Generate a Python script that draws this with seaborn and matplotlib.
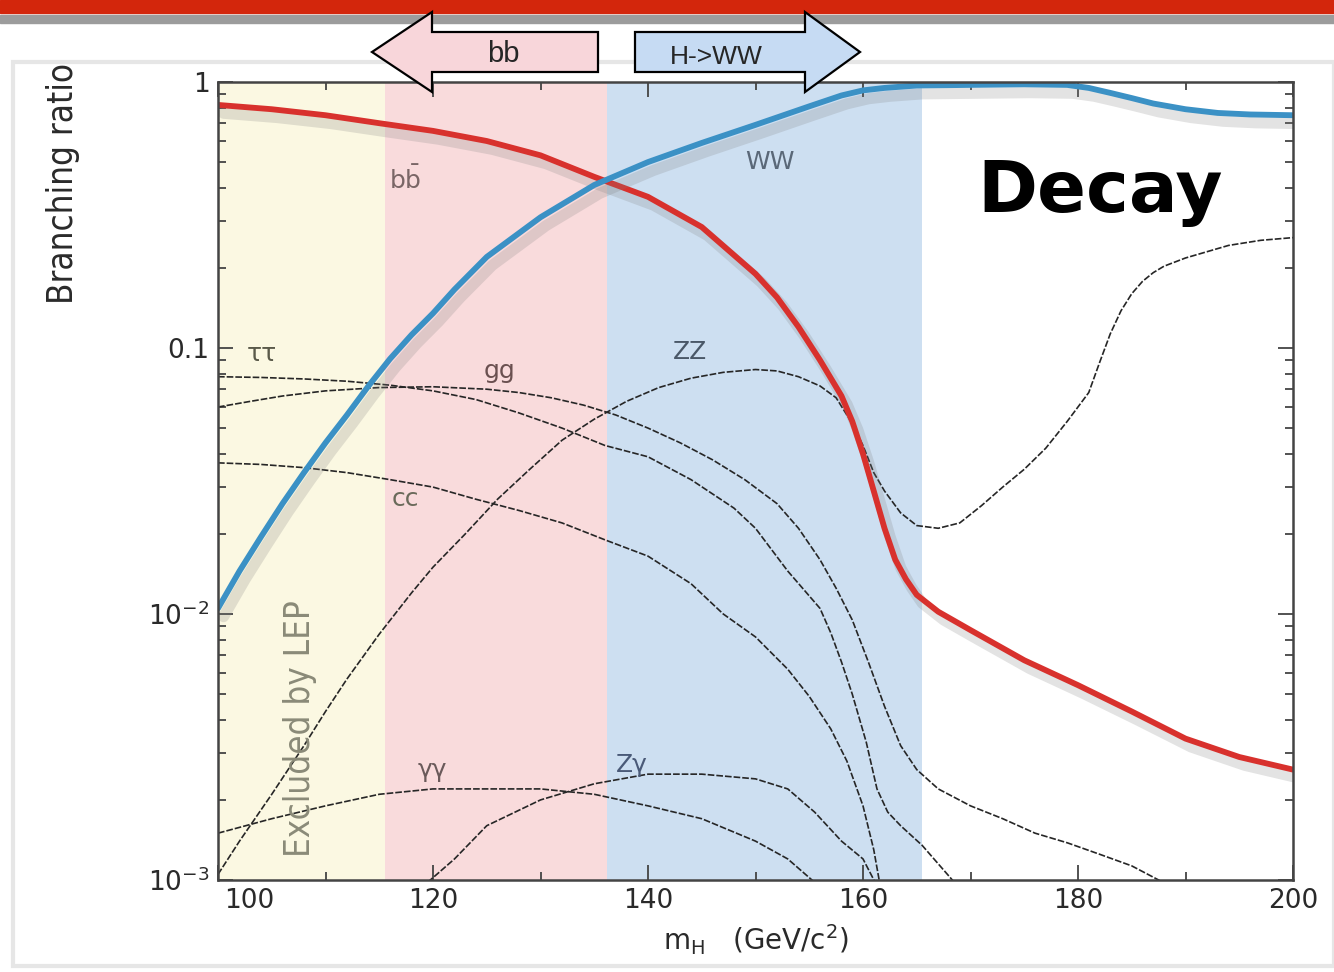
import numpy as np
import pandas as pd
import seaborn as sns
import matplotlib.pyplot as plt
import matplotlib.patheffects as pe
import matplotlib.transforms as mtransforms
from matplotlib.patches import Polygon, Rectangle
from matplotlib.ticker import MultipleLocator, LogLocator, FixedLocator, FixedFormatter, NullFormatter

# Higgs branching ratios vs m_H
bb_m = [100, 105, 110, 115, 120, 125, 130, 135, 140, 145, 150, 152, 154, 156, 158, 159, 160, 161,
        162, 163, 164, 165, 167, 170, 175, 180, 185, 190, 195, 200]
bb_br = [0.82, 0.79, 0.75, 0.70, 0.655, 0.60, 0.53, 0.44, 0.37, 0.285, 0.19, 0.155, 0.12, 0.09, 0.066,
         0.053, 0.040, 0.029, 0.021, 0.016, 0.0135, 0.0118, 0.0102, 0.0087, 0.0067, 0.0054, 0.0043,
         0.0034, 0.0029, 0.0026]

ww_m = [100, 102, 104, 106, 108, 110, 112, 114, 116, 118, 120, 122, 125, 130, 135, 140, 145, 150,
        155, 158, 160, 162, 165, 170, 175, 179, 181, 183, 185, 187, 190, 193, 196, 200]
ww_br = [0.0105, 0.0145, 0.0195, 0.026, 0.034, 0.044, 0.056, 0.072, 0.091, 0.112, 0.135, 0.166, 0.22,
         0.31, 0.41, 0.50, 0.59, 0.69, 0.81, 0.89, 0.93, 0.95, 0.97, 0.975, 0.98, 0.975, 0.95, 0.91,
         0.87, 0.83, 0.79, 0.765, 0.755, 0.75]

zz_m = [100, 102, 105, 108, 110, 112, 115, 118, 120, 123, 126, 129, 132, 135, 138, 141, 144, 147,
        150, 152, 154, 156, 157.5, 159, 160, 161, 162, 163.5, 165, 167, 169, 171, 173, 175, 177, 179,
        181, 182, 183, 184, 185, 186, 187, 188, 190, 194, 197, 200]
zz_br = [0.00105, 0.0014, 0.0021, 0.0032, 0.0043, 0.0057, 0.0084, 0.012, 0.015, 0.020, 0.027, 0.035,
         0.045, 0.054, 0.063, 0.071, 0.077, 0.081, 0.083, 0.082, 0.078, 0.072, 0.065, 0.052, 0.043,
         0.034, 0.029, 0.024, 0.0215, 0.021, 0.022, 0.0255, 0.030, 0.035, 0.042, 0.053, 0.068, 0.088,
         0.113, 0.138, 0.160, 0.178, 0.192, 0.203, 0.218, 0.243, 0.254, 0.26]

gg_m = [100, 103, 106, 110, 115, 120, 125, 128, 131, 134, 137, 140, 143, 146, 149, 152, 154, 156,
        157.5, 159, 160.5, 162, 163.5, 165, 167, 170, 173, 176, 179, 182, 185, 187.5, 189]
gg_br = [0.060, 0.063, 0.066, 0.069, 0.071, 0.0715, 0.070, 0.068, 0.065, 0.061, 0.056, 0.050, 0.044,
         0.038, 0.032, 0.026, 0.021, 0.016, 0.0125, 0.0095, 0.0066, 0.0045, 0.0032, 0.0026, 0.0022,
         0.0019, 0.0017, 0.0015, 0.00138, 0.00125, 0.00113, 0.001, 0.00092]

tau_m = [100, 104, 108, 112, 116, 120, 124, 128, 132, 136, 140, 144, 148, 150, 153, 156, 157, 158,
         159, 160.3, 161.3, 162.3, 163.5, 165.5, 167, 168.5, 169.5]
tau_br = [0.078, 0.0775, 0.0765, 0.075, 0.0725, 0.069, 0.064, 0.057, 0.050, 0.043, 0.039, 0.032,
          0.025, 0.021, 0.0145, 0.0105, 0.0085, 0.0066, 0.005, 0.0033, 0.0022, 0.0018, 0.0016,
          0.00135, 0.00115, 0.00098, 0.0009]

cc_m = [100, 104, 108, 112, 116, 120, 124, 128, 132, 136, 140, 144, 147, 150, 153, 155, 157, 158.5,
        160, 161, 161.6]
cc_br = [0.037, 0.0365, 0.0355, 0.034, 0.032, 0.030, 0.027, 0.0245, 0.022, 0.019, 0.0165, 0.013,
         0.010, 0.0082, 0.0062, 0.0049, 0.0037, 0.0028, 0.0019, 0.0013, 0.00095]

gamgam_m = [100, 105, 110, 115, 120, 125, 130, 135, 140, 145, 150, 153, 155.5]
gamgam_br = [0.0015, 0.0017, 0.0019, 0.0021, 0.0022, 0.0022, 0.0022, 0.0021, 0.0019, 0.0017,
             0.0014, 0.0012, 0.00098]

zgam_m = [119.5, 122, 125, 130, 135, 140, 145, 150, 153, 155.5, 158, 160, 161.3]
zgam_br = [0.00098, 0.0012, 0.0016, 0.0020, 0.0023, 0.0025, 0.0025, 0.0024, 0.0022, 0.0018,
           0.0014, 0.0012, 0.00095]

# shaded mass windows
lep_limit = 115.5
bb_limit = 136.2
ww_limit = 165.5

sns.set_style('ticks')
plt.rcParams['font.family'] = ['DejaVu Sans']

W, H = 1334, 972
fig = plt.figure(figsize=(W / 100, H / 100), dpi=100)
ax = fig.add_axes([218 / W, 1 - 880 / H, (1293 - 218) / W, (880 - 82) / H])

# slide decoration: header bars and panel frame
fig.patches.append(Rectangle((0, 1 - 13 / H), 1, 13 / H, transform=fig.transFigure,
                             color='#d3260c', zorder=0))
fig.patches.append(Rectangle((0, 1 - 23 / H), 1, 8 / H, transform=fig.transFigure,
                             color='#9c9c9c', zorder=0))
fig.patches.append(Rectangle((13 / W, 1 - 966 / H), (W - 13) / W, (966 - 62) / H,
                             transform=fig.transFigure, fill=False, edgecolor='#e6e6e6',
                             lw=3, zorder=0))

ax.axvspan(100, lep_limit, color='#fbf8e2', lw=0, zorder=0)
ax.axvspan(lep_limit, bb_limit, color='#f9dbdc', lw=0, zorder=0)
ax.axvspan(bb_limit, ww_limit, color='#cddff1', lw=0, zorder=0)

thin = [(zz_m, zz_br), (gg_m, gg_br), (tau_m, tau_br), (cc_m, cc_br),
        (gamgam_m, gamgam_br), (zgam_m, zgam_br)]
for m, br in thin:
    sns.lineplot(x=m, y=br, ax=ax, color='#262626', lw=1.2, linestyle=(0, (4, 1.2)), zorder=3)

shadow = [pe.SimpleLineShadow(offset=(4, -6), shadow_color='#808080', alpha=0.22, linewidth=8),
          pe.Normal()]
sns.lineplot(x=bb_m, y=bb_br, ax=ax, color='#d8312d', lw=4.2, zorder=4, path_effects=shadow)
sns.lineplot(x=ww_m, y=ww_br, ax=ax, color='#3b91c5', lw=4.2, zorder=4, path_effects=shadow)

ax.set_yscale('log')
ax.set_xlim(100, 200)
ax.set_ylim(1e-3, 1)

ax.xaxis.set_major_locator(FixedLocator([100, 120, 140, 160, 180, 200]))
ax.xaxis.set_minor_locator(MultipleLocator(10))
ax.yaxis.set_major_locator(FixedLocator([1e-3, 1e-2, 1e-1, 1]))
ax.yaxis.set_major_formatter(FixedFormatter([r'$10^{-3}$', r'$10^{-2}$', '0.1', '1']))
ax.yaxis.set_minor_locator(LogLocator(base=10, subs=np.arange(2, 10)))
ax.yaxis.set_minor_formatter(NullFormatter())
ax.tick_params(which='both', direction='in', top=True, right=True, colors='#444444',
               labelcolor='#2a2a2a', labelsize=19, width=1.3)
ax.tick_params(which='major', length=11, pad=6)
ax.tick_params(which='minor', length=6)
for s in ax.spines.values():
    s.set_color('#444444')
    s.set_linewidth(1.8)
    s.set_zorder(5)

ax.set_xlabel(r'$\mathregular{m_H}$   (GeV/c$^2$)', fontsize=20, color='#2a2a2a', labelpad=6)
ax.set_ylabel('Branching ratio', fontsize=25, color='#2a2a2a', fontstretch='condensed')
ax.yaxis.set_label_coords(-0.128, 0.873)

# curve labels
lab = dict(fontsize=18, ha='center', va='center', zorder=6)
ax.text(117.4, 0.43, r'$\mathregular{b\bar{b}}$', color='#7a6666', **lab)
ax.text(104.1, 0.095, 'ττ', color='#5a5a4a', **lab)
ax.text(126.2, 0.082, 'gg', color='#6a5050', **lab)
ax.text(117.4, 0.027, 'cc', color='#6a6a5a', **lab)
ax.text(143.9, 0.097, 'ZZ', color='#4a5868', **lab)
ax.text(151.3, 0.50, 'WW', color='#5a6878', **lab)
ax.text(119.9, 0.0026, 'γγ', color='#6a5a5a', **lab)
ax.text(138.5, 0.0027, 'Zγ', color='#4a5a78', **lab)
ax.text(182.1, 0.3255, 'Decay', fontsize=52, fontweight='bold', color='black',
        ha='center', va='baseline', zorder=6)
ax.text(107.6, 0.0037, 'Excluded by LEP', fontsize=25, rotation=90, color='#8a8a78',
        ha='center', va='center', fontstretch='condensed', zorder=6)

# arrows above the plot
def fpts(pts):
    return [(x / W, 1 - y / H) for x, y in pts]

left_arrow = [(372, 52), (432, 12), (432, 32), (598, 32), (598, 72), (432, 72), (432, 92)]
right_arrow = [(635, 32), (805, 32), (805, 12), (860, 52), (805, 92), (805, 72), (635, 72)]
fig.patches.append(Polygon(fpts(left_arrow), closed=True, transform=fig.transFigure,
                           facecolor='#f8d6da', edgecolor='black', lw=1.6, zorder=7))
fig.patches.append(Polygon(fpts(right_arrow), closed=True, transform=fig.transFigure,
                           facecolor='#c6dbf3', edgecolor='black', lw=1.6, zorder=7))
fig.text(503 / W, 1 - 54 / H, 'bb', fontsize=21, family='Liberation Sans',
         ha='center', va='center', zorder=8)
fig.text(716 / W, 1 - 57 / H, 'H->WW', fontsize=19, family='Liberation Sans',
         ha='center', va='center', zorder=8)

# nudge the "100" label right so it clears the 10^-3 label, as in the original
first = ax.xaxis.get_major_ticks()[0].label1
first.set_horizontalalignment('left')
first.set_transform(first.get_transform() + mtransforms.ScaledTranslation(6 / 100, 0, fig.dpi_scale_trans))

fig.savefig('out.png', dpi=100)
